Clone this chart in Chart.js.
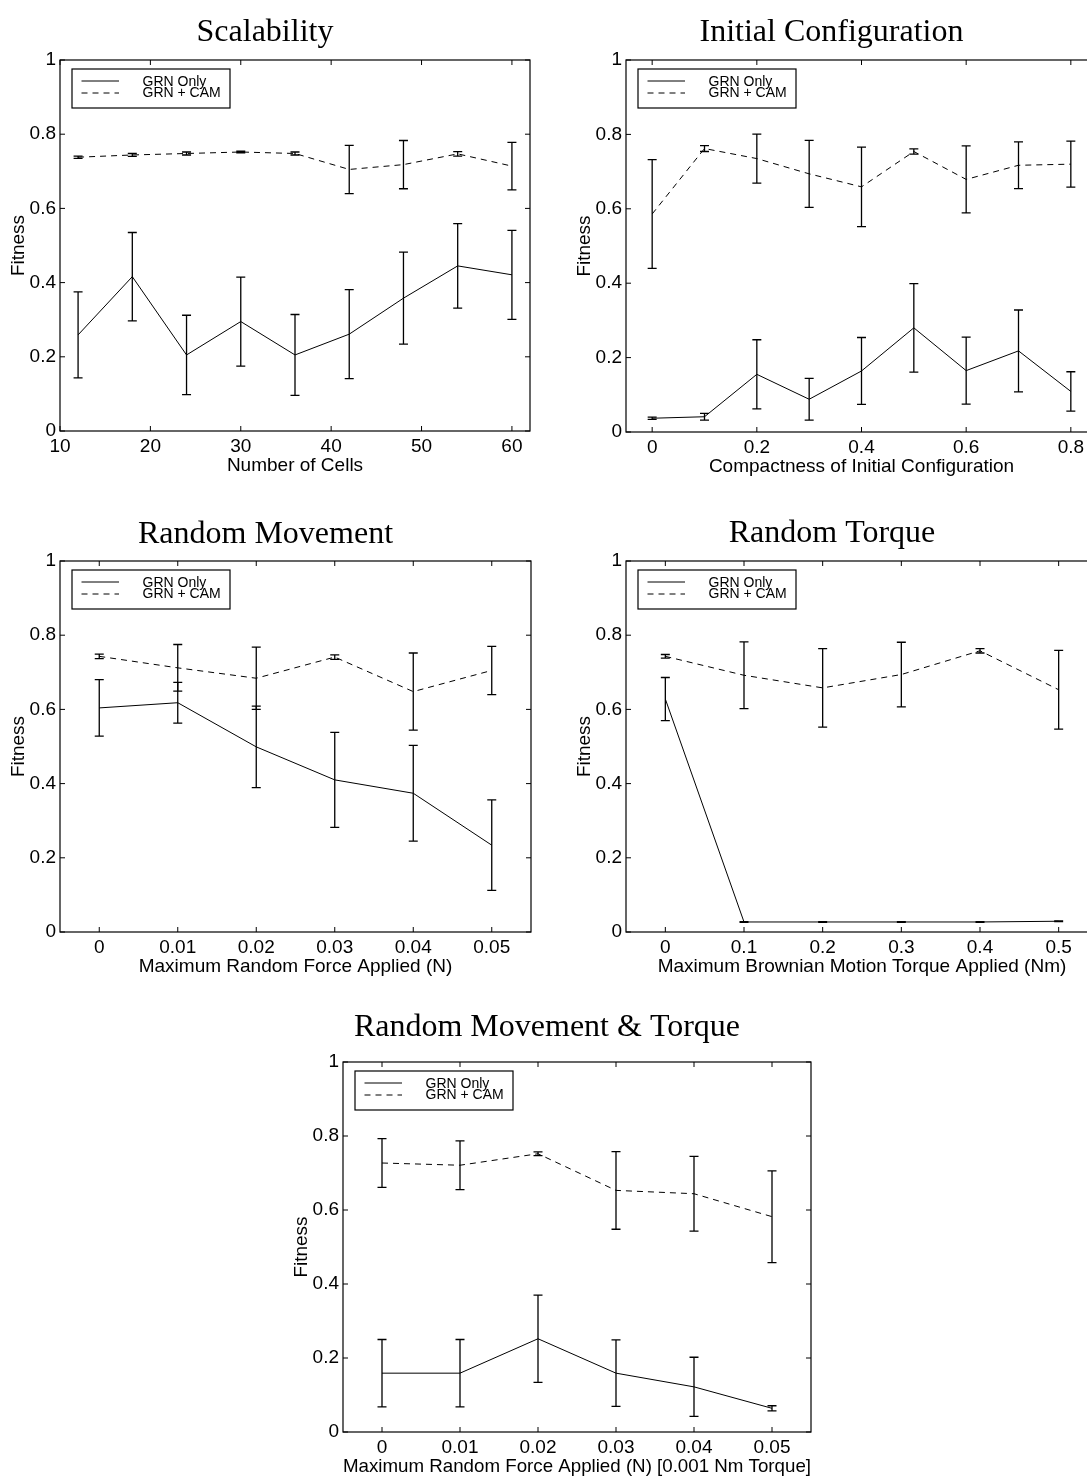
<!DOCTYPE html>
<html>
<head>
<meta charset="utf-8">
<title>Fitness</title>
<script src="https://cdn.jsdelivr.net/npm/chart.js@4.4.1/dist/chart.umd.min.js"></script>
<style>
  html, body { margin: 0; padding: 0; background: #ffffff; }
  body { position: relative; width: 1087px; height: 1476px; overflow: hidden; }
  canvas { position: absolute; }
</style>
</head>
<body>
<canvas id="scal"></canvas>
<canvas id="init"></canvas>
<canvas id="move"></canvas>
<canvas id="torque"></canvas>
<canvas id="both"></canvas>
<script>
// --- DATOS ---
const SERIES_LABELS = ['GRN Only', 'GRN + CAM'];
const Y_TICKS = [0, 0.2, 0.4, 0.6, 0.8, 1];

// Scalability
const scalX = [12, 18, 24, 30, 36, 42, 48, 54, 60];
const scalXTicks = [10, 20, 30, 40, 50, 60];
const scalGrn = [0.259, 0.416, 0.205, 0.295, 0.205, 0.261, 0.358, 0.445, 0.421];
const scalGrnErr = [0.116, 0.119, 0.107, 0.120, 0.109, 0.120, 0.124, 0.114, 0.120];
const scalCam = [0.738, 0.744, 0.748, 0.752, 0.748, 0.705, 0.718, 0.747, 0.714];
const scalCamErr = [0.003, 0.004, 0.004, 0.002, 0.004, 0.065, 0.065, 0.006, 0.064];

// Initial Configuration
const initX = [0, 0.1, 0.2, 0.3, 0.4, 0.5, 0.6, 0.7, 0.8];
const initXTicks = [0, 0.2, 0.4, 0.6, 0.8];
const initGrn = [0.037, 0.041, 0.155, 0.088, 0.164, 0.280, 0.165, 0.218, 0.109];
const initGrnErr = [0.003, 0.009, 0.093, 0.056, 0.090, 0.119, 0.090, 0.110, 0.053];
const initCam = [0.586, 0.762, 0.735, 0.694, 0.659, 0.754, 0.679, 0.717, 0.720];
const initCamErr = [0.146, 0.008, 0.066, 0.090, 0.107, 0.007, 0.090, 0.063, 0.062];

// Random Movement
const moveX = [0, 0.01, 0.02, 0.03, 0.04, 0.05];
const moveXTicks = [0, 0.01, 0.02, 0.03, 0.04, 0.05];
const moveGrn = [0.604, 0.618, 0.499, 0.410, 0.374, 0.234];
const moveGrnErr = [0.076, 0.055, 0.110, 0.128, 0.129, 0.122];
const moveCam = [0.743, 0.712, 0.684, 0.741, 0.648, 0.705];
const moveCamErr = [0.006, 0.063, 0.084, 0.006, 0.104, 0.065];

// Random Torque
const torqueX = [0, 0.1, 0.2, 0.3, 0.4, 0.5];
const torqueXTicks = [0, 0.1, 0.2, 0.3, 0.4, 0.5];
const torqueGrn = [0.628, 0.027, 0.027, 0.027, 0.027, 0.029];
const torqueGrnErr = [0.058, 0.001, 0.001, 0.001, 0.001, 0.001];
const torqueCam = [0.743, 0.692, 0.658, 0.694, 0.758, 0.653];
const torqueCamErr = [0.005, 0.090, 0.106, 0.087, 0.006, 0.106];

// Random Movement & Torque
const bothX = [0, 0.01, 0.02, 0.03, 0.04, 0.05];
const bothXTicks = [0, 0.01, 0.02, 0.03, 0.04, 0.05];
const bothGrn = [0.159, 0.159, 0.252, 0.159, 0.122, 0.064];
const bothGrnErr = [0.091, 0.091, 0.118, 0.090, 0.080, 0.007];
const bothCam = [0.727, 0.721, 0.752, 0.653, 0.644, 0.582];
const bothCamErr = [0.066, 0.066, 0.005, 0.105, 0.101, 0.124];

// --- ESTILO ---
const FONT_SANS = '"Liberation Sans", Arial, Helvetica, sans-serif';
const FONT_SERIF = '"Liberation Serif", "Times New Roman", serif';
const DASH = [6, 5];
const CAP = 4.5;      // media anchura de los topes de las barras de error
const TICK_LEN = 5;   // marcas hacia dentro, como en matlab
const Y_AXIS_W = 60;
const X_AXIS_H = 60;
const TITLE_H = 61;

// caja del gráfico en pixeles de la página
const PANELS = [
  { id: 'scal', title: 'Scalability', xLabel: 'Number of Cells',
    x: scalX, xTicks: scalXTicks, xMin: 10, xMax: 62,
    grn: scalGrn, grnErr: scalGrnErr, cam: scalCam, camErr: scalCamErr,
    left: 60, top: 60, width: 470, height: 371, padRight: 10, titleGap: 23 },
  { id: 'init', title: 'Initial Configuration', xLabel: 'Compactness of Initial Configuration',
    x: initX, xTicks: initXTicks, xMin: -0.05, xMax: 0.85,
    grn: initGrn, grnErr: initGrnErr, cam: initCam, camErr: initCamErr,
    left: 626, top: 60, width: 471, height: 372, padRight: 12, titleGap: 23 },
  { id: 'move', title: 'Random Movement', xLabel: 'Maximum Random Force Applied (N)',
    x: moveX, xTicks: moveXTicks, xMin: -0.005, xMax: 0.055,
    grn: moveGrn, grnErr: moveGrnErr, cam: moveCam, camErr: moveCamErr,
    left: 60, top: 561, width: 471, height: 371, padRight: 12, titleGap: 22 },
  { id: 'torque', title: 'Random Torque', xLabel: 'Maximum Brownian Motion Torque Applied (Nm)',
    x: torqueX, xTicks: torqueXTicks, xMin: -0.05, xMax: 0.55,
    grn: torqueGrn, grnErr: torqueGrnErr, cam: torqueCam, camErr: torqueCamErr,
    left: 626, top: 561, width: 472, height: 371, padRight: 32, titleGap: 23 },
  { id: 'both', title: 'Random Movement & Torque', xLabel: 'Maximum Random Force Applied (N) [0.001 Nm Torque]',
    x: bothX, xTicks: bothXTicks, xMin: -0.005, xMax: 0.055,
    grn: bothGrn, grnErr: bothGrnErr, cam: bothCam, camErr: bothCamErr,
    left: 343, top: 1062, width: 468, height: 370, padRight: 15, titleGap: 30 }
];

// Dibuja barras de error, caja, marcas interiores y leyenda
const matlabAxes = {
  id: 'matlabAxes',
  afterDatasetsDraw(chart) {
    const ctx = chart.ctx;
    const a = chart.chartArea;
    const xs = chart.scales.x;
    const ys = chart.scales.y;
    ctx.save();
    ctx.strokeStyle = '#000';
    ctx.setLineDash([]);

    // barras de error
    ctx.lineWidth = 1.3;
    chart.data.datasets.forEach(ds => {
      ds.data.forEach((p, i) => {
        const e = ds.errorBars[i];
        const px = xs.getPixelForValue(p.x);
        const hi = ys.getPixelForValue(p.y + e);
        const lo = ys.getPixelForValue(p.y - e);
        ctx.beginPath();
        ctx.moveTo(px, hi); ctx.lineTo(px, lo);
        ctx.moveTo(px - CAP, hi); ctx.lineTo(px + CAP, hi);
        ctx.moveTo(px - CAP, lo); ctx.lineTo(px + CAP, lo);
        ctx.stroke();
      });
    });

    // caja
    ctx.lineWidth = 1.2;
    ctx.strokeRect(a.left, a.top, a.right - a.left, a.bottom - a.top);

    // marcas hacia dentro en los cuatro lados
    ctx.lineWidth = 1;
    ctx.beginPath();
    xs.ticks.forEach(t => {
      const px = xs.getPixelForValue(t.value);
      ctx.moveTo(px, a.bottom); ctx.lineTo(px, a.bottom - TICK_LEN);
      ctx.moveTo(px, a.top); ctx.lineTo(px, a.top + TICK_LEN);
    });
    ys.ticks.forEach(t => {
      const py = ys.getPixelForValue(t.value);
      ctx.moveTo(a.left, py); ctx.lineTo(a.left + TICK_LEN, py);
      ctx.moveTo(a.right, py); ctx.lineTo(a.right - TICK_LEN, py);
    });
    ctx.stroke();

    // leyenda con recuadro
    const lx = a.left + 12;
    const ly = a.top + 9;
    ctx.fillStyle = '#fff';
    ctx.fillRect(lx, ly, 158, 39);
    ctx.lineWidth = 1.2;
    ctx.strokeRect(lx, ly, 158, 39);
    ctx.lineWidth = 1;
    ctx.font = '14px ' + FONT_SANS;
    ctx.fillStyle = '#000';
    ctx.textBaseline = 'alphabetic';
    chart.data.datasets.forEach((ds, i) => {
      const yLine = ly + 12 + i * 12;
      ctx.setLineDash(ds.borderDash || []);
      ctx.beginPath();
      ctx.moveTo(lx + 9.5, yLine);
      ctx.lineTo(lx + 47, yLine);
      ctx.stroke();
      ctx.setLineDash([]);
      ctx.fillText(ds.label, lx + 70.5, ly + 17 + i * 10.7);
    });
    ctx.restore();
  }
};

function crearPanel(p) {
  const canvas = document.getElementById(p.id);
  const w = Y_AXIS_W + p.width + p.padRight;
  const h = TITLE_H + p.height + X_AXIS_H;
  canvas.width = w;
  canvas.height = h;
  canvas.style.width = w + 'px';
  canvas.style.height = h + 'px';
  canvas.style.left = (p.left - Y_AXIS_W) + 'px';
  canvas.style.top = (p.top - TITLE_H) + 'px';

  // el título de matlab queda algo más bajo que el de Chart.js por defecto
  const titlePadBottom = p.titleGap - 11.5;

  new Chart(canvas, {
    type: 'line',
    data: {
      datasets: [
        {
          label: SERIES_LABELS[0],
          data: p.x.map((v, i) => ({ x: v, y: p.grn[i] })),
          errorBars: p.grnErr,
          borderColor: '#000',
          borderWidth: 1,
          pointRadius: 0,
          tension: 0,
          fill: false
        },
        {
          label: SERIES_LABELS[1],
          data: p.x.map((v, i) => ({ x: v, y: p.cam[i] })),
          errorBars: p.camErr,
          borderColor: '#000',
          borderWidth: 1,
          borderDash: DASH,
          pointRadius: 0,
          tension: 0,
          fill: false
        }
      ]
    },
    options: {
      responsive: false,
      animation: false,
      devicePixelRatio: 1,
      layout: { padding: { left: 0, top: 0, bottom: 0, right: p.padRight } },
      plugins: {
        legend: { display: false },
        tooltip: { enabled: false },
        title: {
          display: true,
          text: p.title,
          color: '#000',
          font: { family: FONT_SERIF, size: 32, weight: 'normal', lineHeight: 1 },
          padding: { top: TITLE_H - 32 - titlePadBottom, bottom: titlePadBottom }
        }
      },
      scales: {
        x: {
          type: 'linear',
          min: p.xMin,
          max: p.xMax,
          afterBuildTicks: s => { s.ticks = p.xTicks.map(v => ({ value: v })); },
          afterFit: s => { s.height = X_AXIS_H; },
          grid: { display: false, drawTicks: false },
          border: { display: false },
          ticks: {
            autoSkip: false,
            maxRotation: 0,
            padding: 4,
            color: '#000',
            font: { family: FONT_SANS, size: 19 },
            callback: v => String(v)
          },
          title: {
            display: true,
            text: p.xLabel,
            color: '#000',
            font: { family: FONT_SANS, size: 19 },
            padding: { top: 0, bottom: 14 }
          }
        },
        y: {
          type: 'linear',
          min: 0,
          max: 1,
          afterBuildTicks: s => { s.ticks = Y_TICKS.map(v => ({ value: v })); },
          afterFit: s => { s.width = Y_AXIS_W; },
          grid: { display: false, drawTicks: false },
          border: { display: false },
          ticks: {
            padding: 4,
            color: '#000',
            font: { family: FONT_SANS, size: 19 },
            callback: v => String(+v.toFixed(1))
          },
          title: {
            display: true,
            text: 'Fitness',
            color: '#000',
            font: { family: FONT_SANS, size: 19 },
            padding: { top: 7.6, bottom: 0 }
          }
        }
      }
    },
    plugins: [matlabAxes]
  });
}

PANELS.forEach(crearPanel);
</script>
</body>
</html>
